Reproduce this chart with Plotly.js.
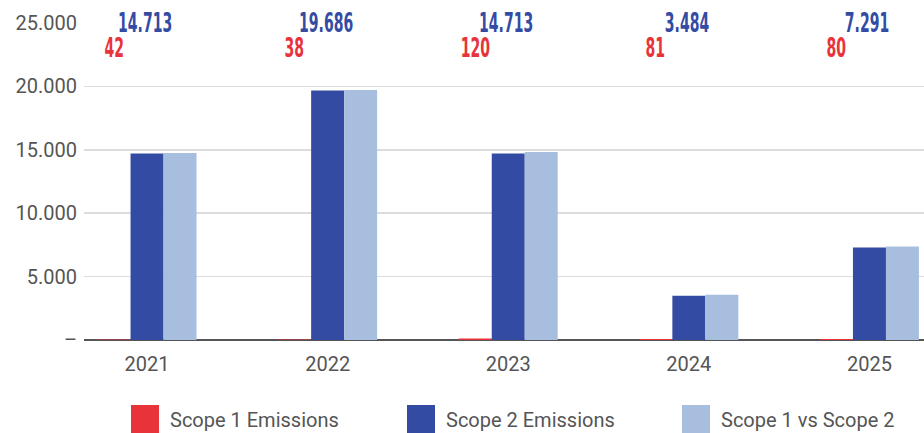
<!DOCTYPE html>
<html>
<head>
<meta charset="utf-8">
<script src="https://cdn.plot.ly/plotly-3.0.1.min.js"></script>
<style>html,body{margin:0;padding:0;background:#fff;}#chart{width:924px;height:433px;}</style>
</head>
<body>
<div id="chart"></div>
<script>
const years = ["2021", "2022", "2023", "2024", "2025"];
const seriesNames = ["Scope 1 Emissions", "Scope 2 Emissions", "Scope 1 vs Scope 2"];
const scope1 = [42, 38, 120, 81, 80];
const scope2 = [14713, 19686, 14713, 3484, 7291];
const scope1vs2 = [14755, 19724, 14833, 3565, 7371];
const yTickVals = [0, 5000, 10000, 15000, 20000, 25000];
const yTickText = ["–", "5.000", "10.000", "15.000", "20.000", "25.000"];

const colors = ["#E8333A", "#344BA4", "#A8BEDE"];
const axisFont = {family: "Roboto, sans-serif", size: 20, color: "#555555"};
const labelFontFamily = "DejaVu Sans Condensed, sans-serif";

function fmt(v) {
  return String(v).replace(/\B(?=(\d{3})+(?!\d))/g, ".");
}

const data = [scope1, scope2, scope1vs2].map((vals, i) => ({
  type: "bar",
  x: years,
  y: vals,
  name: seriesNames[i],
  marker: {color: colors[i]},
  hoverinfo: "none"
}));

const annotations = [];
years.forEach((yr, i) => {
  annotations.push({
    x: i, xref: "x", y: 1, yref: "paper", yanchor: "middle", xanchor: "center",
    xshift: -2, yshift: 0,
    text: fmt(scope2[i]), showarrow: false,
    font: {family: labelFontFamily, size: 26, weight: 700, color: colors[1]}
  });
  annotations.push({
    x: i, xref: "x", y: 1, yref: "paper", yanchor: "middle", xanchor: "center",
    xshift: -33, yshift: -25,
    text: fmt(scope1[i]), showarrow: false,
    font: {family: labelFontFamily, size: 26, weight: 700, color: colors[0]}
  });
});
const nValueLabels = annotations.length;

// custom legend (below plot)
const shapes = [];
const plotL = 84, plotW = 840, plotT = 23, plotH = 317;
const legendX = [131, 407, 682];
seriesNames.forEach((nm, i) => {
  const x0 = legendX[i];
  shapes.push({
    type: "rect", xref: "paper", yref: "paper",
    x0: (x0 - plotL) / plotW, x1: (x0 + 28 - plotL) / plotW,
    y0: (plotT + plotH - 433) / plotH, y1: (plotT + plotH - 405) / plotH,
    fillcolor: colors[i], line: {width: 0}
  });
  annotations.push({
    xref: "paper", yref: "paper",
    x: (x0 + 37 - plotL) / plotW, y: (plotT + plotH - 420) / plotH,
    xanchor: "left", yanchor: "middle", showarrow: false,
    text: nm, font: axisFont
  });
});

const layout = {
  width: 924, height: 433,
  margin: {l: 84, r: 0, t: 23, b: 93},
  paper_bgcolor: "#ffffff", plot_bgcolor: "#ffffff",
  showlegend: false,
  barmode: "group",
  bargap: 0.452,
  bargroupgap: 0,
  xaxis: {
    type: "category",
    range: [-0.349, 4.302],
    showgrid: false, zeroline: false,
    showline: false,
    ticks: "",
    tickfont: axisFont,
    ticklabelstandoff: 10,
    fixedrange: true
  },
  yaxis: {
    range: [0, 25000],
    tickvals: yTickVals, ticktext: yTickText,
    showgrid: true, gridcolor: "#dcdcdc", gridwidth: 1.5,
    zeroline: true, zerolinecolor: "#555555", zerolinewidth: 1.5,
    showline: false, ticks: "",
    tickfont: axisFont,
    ticklabelstandoff: 6,
    fixedrange: true
  },
  shapes: shapes,
  annotations: annotations
};

Plotly.newPlot("chart", data, layout, {displayModeBar: false, staticPlot: true}).then(() => {
  // narrow the value labels to mimic the condensed display face of the original
  document.querySelectorAll("#chart g.annotation").forEach(g => {
    const idx = +g.getAttribute("data-index");
    if (idx < nValueLabels) {
      const t = g.querySelector("text.annotation-text");
      if (t) {
        t.style.transformBox = "fill-box";
        t.style.transformOrigin = "center";
        t.style.transform = "scaleX(0.6)";
      }
    }
  });
});
</script>
</body>
</html>
